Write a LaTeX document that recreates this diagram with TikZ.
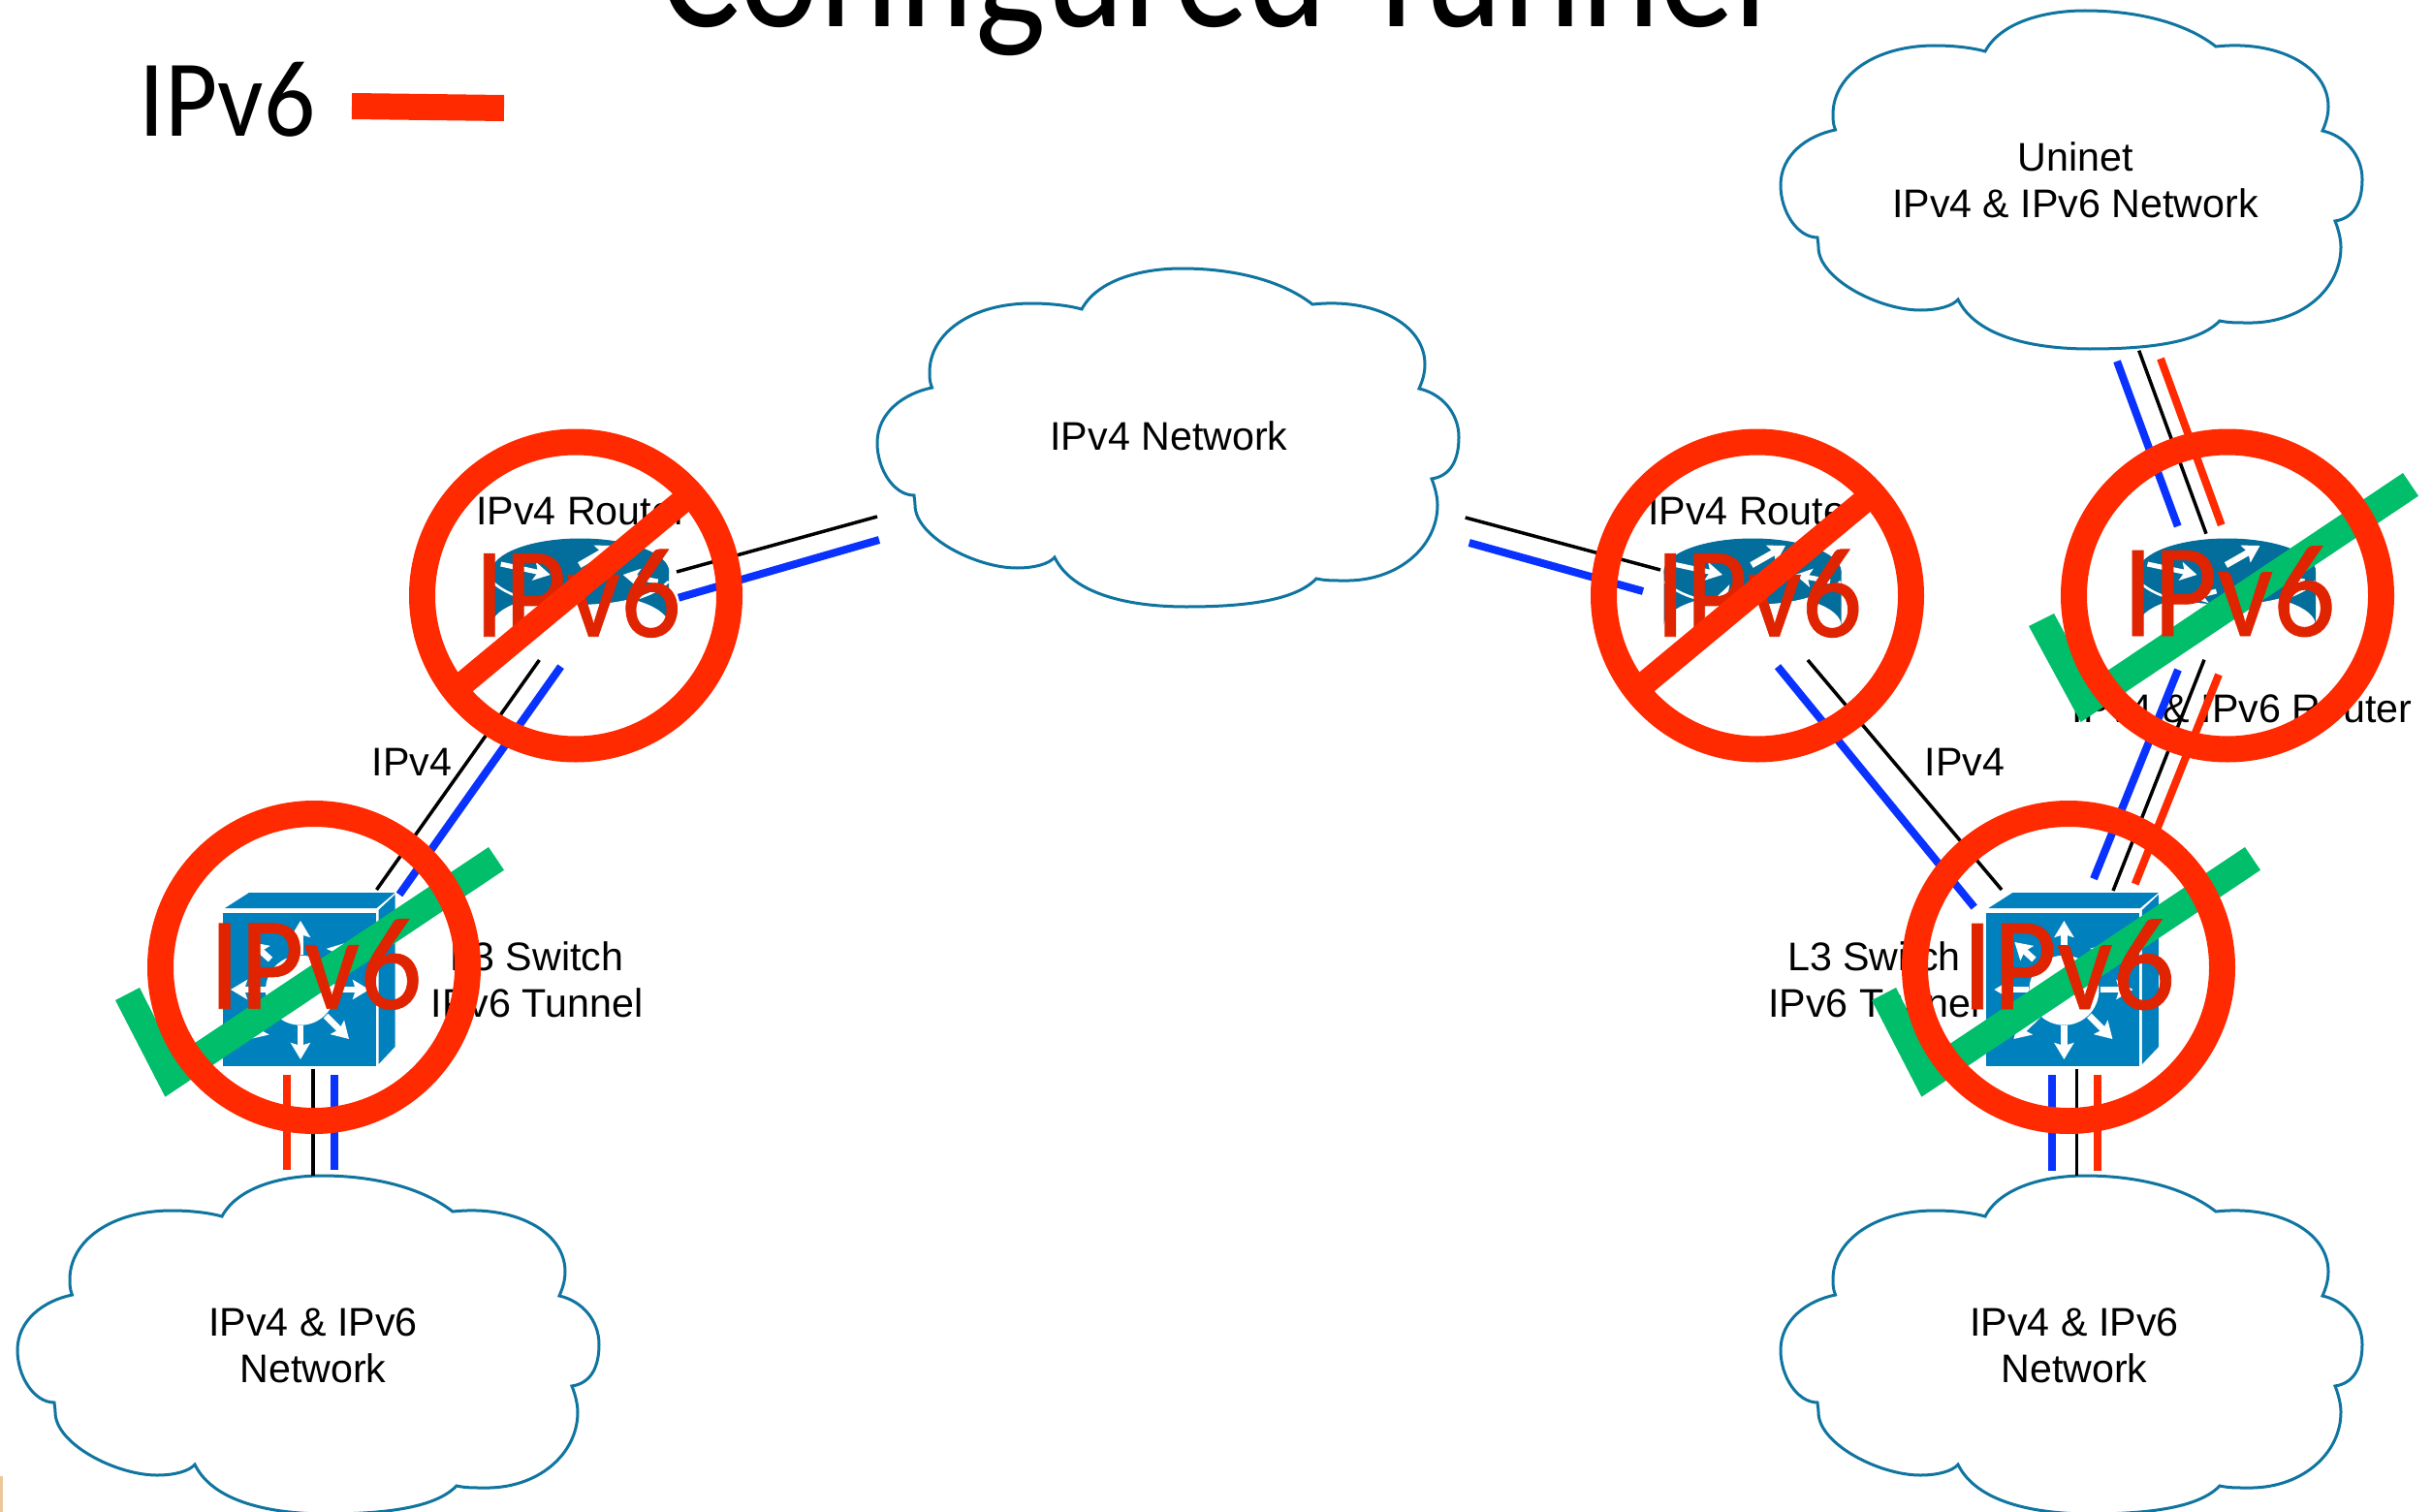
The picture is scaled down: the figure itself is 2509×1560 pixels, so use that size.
\documentclass[tikz,border=0pt]{standalone}
\usepackage{fontspec}
\usetikzlibrary{arrows.meta,calc}
\setmainfont{Liberation Sans}
\newfontfamily\gill{Carlito}
\newfontfamily\gillb[FakeBold=0.6]{Carlito}
\definecolor{cloudc}{HTML}{0F75A0}
\definecolor{redl}{HTML}{FF2A00}
\definecolor{redt}{HTML}{E02400}
\definecolor{bluel}{HTML}{0A32FF}
\definecolor{greenc}{HTML}{00BE6A}
\definecolor{switchc}{HTML}{0080BC}
\definecolor{routerc}{HTML}{036D9B}
\definecolor{sliver}{HTML}{EBC79A}
\tikzset{
 cloudshape/.style={draw=cloudc,line width=3pt,fill=white},
 label/.style={font=\fontsize{41.2}{48}\selectfont,align=center,inner sep=0pt,text=black},
 v4/.style={draw=black,line width=3.5pt},
 v6red/.style={draw=redl,line width=8pt},
 v6blue/.style={draw=bluel,line width=8pt},
 ringc/.style={draw=redl,line width=27pt},
 slashc/.style={draw=redl,line width=25pt},
 bigv6/.style={font=\gillb\fontsize{133}{133}\selectfont,text=redt,inner sep=0pt,anchor=base},
 bigvL/.style={font=\gillb\fontsize{137}{137}\selectfont,text=redt,inner sep=0pt,anchor=base},
 greentick/.style={fill=greenc,draw=none},
 wharrow/.style={draw=white,line width=6.5pt,-{Stealth[length=17pt,width=20pt,inset=3pt]}},
 wharrowt/.style={draw=white,line width=5pt,-{Stealth[length=17pt,width=19pt,inset=4pt]}},
}
\newcommand{\cloudat}[2]{%
 \begin{scope}[shift={(#1,#2)}]
 \draw[cloudshape] (229,1255) .. controls (245,1225) and (290,1213) .. (332,1213)
  .. controls (385,1213) and (435,1225) .. (467,1250)
  .. controls (530,1243) and (583,1270) .. (583,1312)
  .. controls (583,1322) and (580,1330) .. (577,1337)
  .. controls (600,1342) and (618,1362) .. (618,1387)
  .. controls (618,1410) and (610,1427) .. (590,1430)
  .. controls (594,1440) and (596,1450) .. (596,1457)
  .. controls (596,1500) and (555,1537) .. (497,1535)
  .. controls (488,1535) and (480,1535) .. (471,1533)
  .. controls (450,1555) and (400,1562) .. (337,1562)
  .. controls (280,1562) and (220,1550) .. (201,1511)
  .. controls (195,1518) and (180,1522) .. (162,1522)
  .. controls (120,1522) and (57,1490) .. (57,1457)
  .. controls (57,1453) and (56,1450) .. (56,1447)
  .. controls (35,1447) and (18,1420) .. (18,1393)
  .. controls (18,1362) and (45,1342) .. (74.5,1336)
  .. controls (72,1330) and (72,1325) .. (72,1320)
  .. controls (72,1280) and (115,1249) .. (177,1249)
  .. controls (195,1249) and (215,1251) .. (229,1255) -- cycle;
 \end{scope}}
\newcommand{\routerat}[2]{%
 \begin{scope}[shift={(#1,#2)}]
 \fill[routerc] (-91.5,-27) arc[start angle=180,end angle=360,x radius=91.5,y radius=34] -- (91.5,28)
   arc[start angle=360,end angle=180,x radius=91.5,y radius=33] -- cycle;
 \fill[routerc] (0,-27) ellipse[x radius=91.5,y radius=34.5];
 \draw[white,line width=2.5pt] (-91,-17) .. controls (-70,3) and (-30,8) .. (0,8) .. controls (30,8) and (70,3) .. (91,-17);
 \draw[wharrow] (-1,-34) -- (34,-54);
 \draw[wharrowt] (-82,-35) -- (-31,-24);
 \draw[wharrowt] (80,-17) -- (44,-24);
 \draw[wharrowt] (-11,-7) -- (-38,0);
 \end{scope}}
\newcommand{\switchat}[2]{%
 \begin{scope}[shift={(#1,#2)}]
 \fill[switchc] (229.6,941.7) rectangle (387.7,1100);
 \fill[switchc] (232,937) -- (257,921) -- (407.5,921) -- (388.5,937) -- cycle;
 \fill[switchc] (390.5,939) -- (407.5,923) -- (407.5,1080) -- (390.5,1098) -- cycle;
 \fill[white] (310,1021.7) circle[radius=36];
 \draw[wharrow] (310,985) -- (310,950);
 \draw[wharrow] (310,1058) -- (310,1093);
 \draw[wharrow] (348,1021) -- (381,1021);
 \draw[wharrow] (274,1021) -- (238,1021);
 \draw[wharrow] (279,990) -- (259,972);
 \draw[wharrow] (336,1048) -- (360,1072);
 \draw[wharrow] (336,995) -- (356,973);
 \draw[wharrow] (283,1048) -- (258,1072);
 \end{scope}}
\newcommand{\ringat}[2]{\draw[ringc] (#1,#2) circle[radius=158.5];}
\begin{document}
\begin{tikzpicture}[x=1pt,y=-1pt]
\useasboundingbox (0,0) rectangle (2509,1560);
\fill[white] (0,0) rectangle (2509,1560);
\fill[sliver] (0,1523) rectangle (3,1560);
% title and legend (title runs off the top)
\begin{scope}
\clip (0,0) rectangle (2509,1560);
\node[font=\gill\fontsize{176}{176}\selectfont,inner sep=0pt,anchor=base] (title) at (1253,28) {\scalebox{.875}[1]{Configured Tunnel}};
\end{scope}
\node[font=\gill\fontsize{113}{113}\selectfont,inner sep=0pt,anchor=base] (legend) at (234.5,141) {\scalebox{.93}[1]{IPv6}};
\coordinate (legA) at (363,109.5); \coordinate (legB) at (520,111.5);
\draw[draw=redl,line width=27pt] (legA) -- (legB);
% clouds
\cloudat{0}{0}
\cloudat{1819}{0}
\cloudat{1819}{-1202}
\cloudat{887}{-936}
\node[label] (cloudA) at (323,1388) {IPv4 \& IPv6\\Network};
\node[label] (cloudB) at (2140,1388) {IPv4 \& IPv6\\Network};
\node[label] (cloudC) at (2141,186) {Uninet\\IPv4 \& IPv6 Network};
\node[label] (cloudD) at (1206,450) {IPv4 Network};
% devices
\routerat{598.7}{617}
\routerat{1808}{617}
\routerat{2297.5}{617}
\switchat{0}{0}
\switchat{1819.4}{0}
% labels
\node[label] (lr1) at (600,528) {IPv4 Router};
\node[label] (lr2) at (1809,528) {IPv4 Router};
\node[label] (lr3) at (2313,731) {IPv4 \& IPv6 Router};
\node[label] (lv1) at (425,786) {IPv4};
\node[label] (lv2) at (2027,786) {IPv4};
\node[label] (ls1) at (554,1011) {L3 Switch\\IPv6 Tunnel};
\node[label] (ls2) at (1933.5,1011) {L3 Switch\\IPv6 Tunnel};
% connectors
\coordinate (a1) at (698,590); \coordinate (a2) at (905,533);
\coordinate (b1) at (700,616.7); \coordinate (b2) at (907,557);
\draw[v4] (a1) -- (a2); \draw[v6blue] (b1) -- (b2);
\coordinate (c1) at (556.4,681); \coordinate (c2) at (388.5,918);
\coordinate (d1) at (578.6,687.7); \coordinate (d2) at (412,923);
\draw[v4] (c1) -- (c2); \draw[v6blue] (d1) -- (d2);
\coordinate (e1) at (296.4,1109); \coordinate (e2) at (296.4,1207);
\coordinate (f1) at (323,1103); \coordinate (f2) at (323,1213);
\coordinate (g1) at (344.7,1109); \coordinate (g2) at (344.7,1207);
\draw[v6red] (e1) -- (e2); \draw[v4] (f1) -- (f2); \draw[v6blue] (g1) -- (g2);
\coordinate (h1) at (1511.7,534); \coordinate (h2) at (1713,588);
\coordinate (i1) at (1515.7,560); \coordinate (i2) at (1695,610);
\draw[v4] (h1) -- (h2); \draw[v6blue] (i1) -- (i2);
\coordinate (j1) at (1865,681); \coordinate (j2) at (2065,918);
\coordinate (k1) at (1834,687.7); \coordinate (k2) at (2036.7,936);
\draw[v4] (j1) -- (j2); \draw[v6blue] (k1) -- (k2);
\coordinate (l1) at (2184,372.7); \coordinate (l2) at (2246.7,543);
\coordinate (m1) at (2206.7,361.7); \coordinate (m2) at (2276,550.7);
\coordinate (n1) at (2229,370); \coordinate (n2) at (2291.7,541.7);
\draw[v6blue] (l1) -- (l2); \draw[v4] (m1) -- (m2); \draw[v6red] (n1) -- (n2);
\coordinate (o1) at (2247,691); \coordinate (o2) at (2160,906.7);
\coordinate (p1) at (2274,680.7); \coordinate (p2) at (2180,919);
\coordinate (q1) at (2289,696); \coordinate (q2) at (2202.7,912);
\draw[v6blue] (o1) -- (o2); \draw[v4] (p1) -- (p2); \draw[v6red] (q1) -- (q2);
\coordinate (r1) at (2116.7,1109); \coordinate (r2) at (2116.7,1207.7);
\coordinate (s1) at (2142.7,1103); \coordinate (s2) at (2142.7,1213);
\coordinate (t1) at (2164,1109); \coordinate (t2) at (2164,1207.7);
\draw[v6blue] (r1) -- (r2); \draw[v4] (s1) -- (s2); \draw[v6red] (t1) -- (t2);
% green ticks
\fill[greentick] (504,874) -- (520,897.7) -- (170.4,1131.7) -- (119,1032) -- (144,1019) -- (180,1090) -- cycle;
\begin{scope}[shift={(1812,0)}]
\fill[greentick] (504,874) -- (520,897.7) -- (170.4,1131.7) -- (119,1032) -- (144,1019) -- (180,1090) -- cycle;
\end{scope}
\fill[greentick] (2479,488) -- (2495,511.7) -- (2146.7,745) -- (2093,646) -- (2119,633) -- (2157,703.5) -- cycle;
% big red IPv6
\node[bigv6] (x1) at (596,656.7) {\scalebox{.93}[1]{IPv6}};
\node[bigv6] (x2) at (1814.5,656.7) {\scalebox{.93}[1]{IPv6}};
\node[bigvL] (x3) at (2299.5,656) {\scalebox{.93}[1]{IPv6}};
\node[bigvL] (x4) at (325.6,1040.7) {\scalebox{.93}[1]{IPv6}};
\node[bigvL] (x5) at (2134,1041) {\scalebox{.93}[1]{IPv6}};
% rings
\ringat{594}{614.5}
\ringat{1813}{614.5}
\ringat{2298}{614.5}
\ringat{324}{998}
\ringat{2134}{998}
\coordinate (sl1) at (472,710); \coordinate (sl2) at (712,510.5);
\draw[slashc] (sl1) -- (sl2);
\coordinate (sl3) at (1691,710); \coordinate (sl4) at (1931,510.5);
\draw[slashc] (sl3) -- (sl4);
\end{tikzpicture}
\end{document}
